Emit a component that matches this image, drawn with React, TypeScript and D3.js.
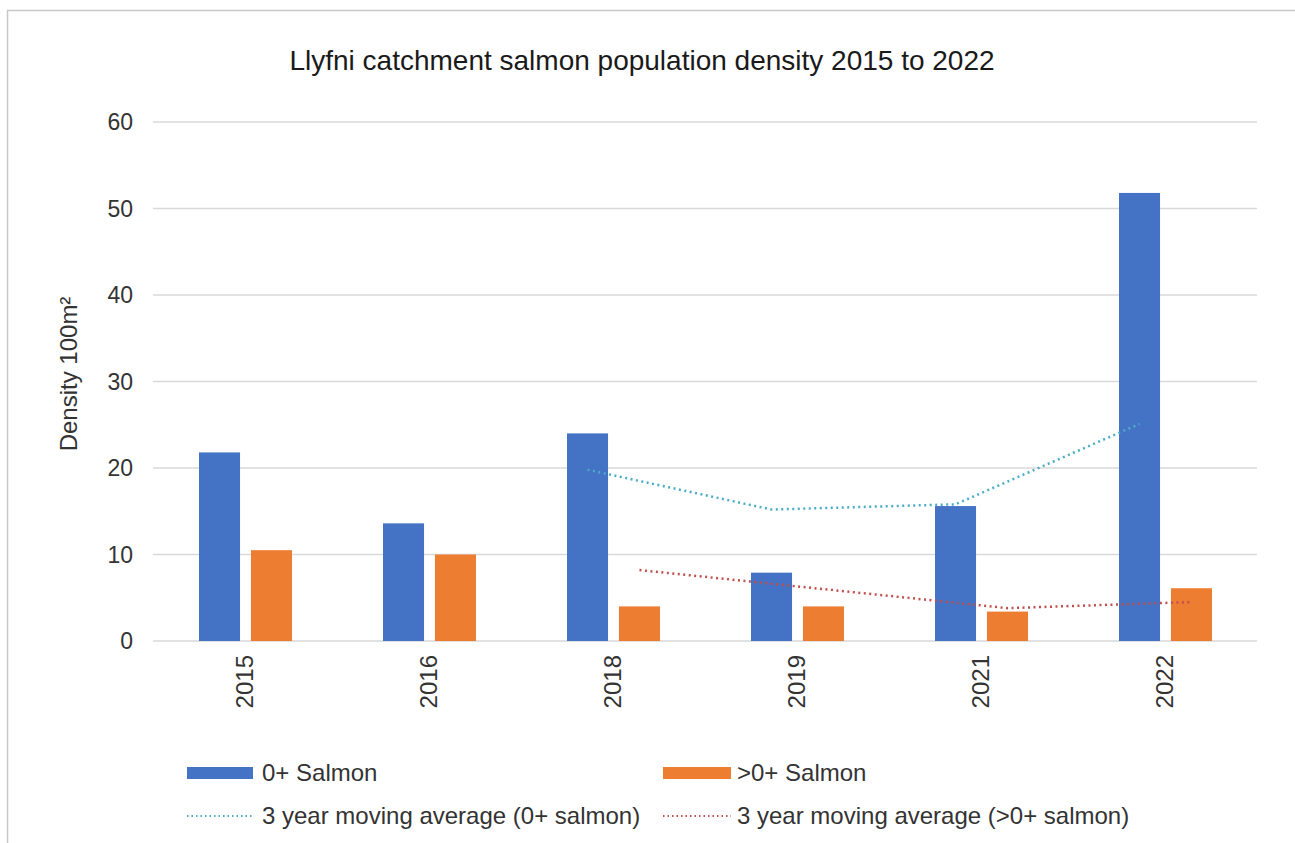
import React from "react";
import * as d3 from "d3";

const years = ["2015", "2016", "2018", "2019", "2021", "2022"];
const seriesNames = ["0+ Salmon", ">0+ Salmon"];
const salmon0 = [21.8, 13.6, 24.0, 7.9, 15.6, 51.8];
const salmonOlder = [10.5, 10.0, 4.0, 4.0, 3.4, 6.1];
const maYears = ["2018", "2019", "2021", "2022"];
const ma0 = [19.8, 15.2, 15.8, 25.1];
const maOlder = [8.2, 6.0, 3.8, 4.5];
const yTicks = [0, 10, 20, 30, 40, 50, 60];
const maNames = ["3 year moving average (0+ salmon)", "3 year moving average (>0+ salmon)"];

const BLUE = "#4472C4";
const ORANGE = "#ED7D31";
const CYAN = "#4BACC6";
const RED = "#C0504D";
const FONT = "'Liberation Sans', Arial, sans-serif";

export default function App() {
  const W = 1295, H = 843;
  const x = d3.scaleBand().domain(years).range([153, 1257]).paddingInner(0).paddingOuter(0);
  const inner = d3.scaleBand().domain(seriesNames).range([-46, 47]).paddingInner(0.21).paddingOuter(0);
  const y = d3.scaleLinear().domain([0, 60]).range([641, 122]);
  const center = (yr: string) => (x(yr) as number) + x.bandwidth() / 2;
  const barCenter = (yr: string, s: string) => center(yr) + (inner(s) as number) + inner.bandwidth() / 2;

  const line = d3.line<[number, number]>().x((d) => d[0]).y((d) => d[1]);
  const ma0Pts: [number, number][] = maYears.map((yr, i) => [barCenter(yr, seriesNames[0]), y(ma0[i])]);
  const maOPts: [number, number][] = maYears.map((yr, i) => [barCenter(yr, seriesNames[1]), y(maOlder[i])]);

  const seriesData = [salmon0, salmonOlder];
  const seriesColors = [BLUE, ORANGE];

  return (
    <svg width={W} height={H} style={{ position: "absolute", left: 0, top: 0, background: "#fff" }} fontFamily={FONT}>
      <rect x={7.5} y={10.5} width={1400} height={900} fill="#fff" stroke="#c8c8c8" strokeWidth={1.5} />
      <text x={642} y={70} textAnchor="middle" fontSize={28} fill="#1a1a1a">
        Llyfni catchment salmon population density 2015 to 2022
      </text>
      {yTicks.map((t) => (
        <g key={t}>
          <line x1={153} x2={1257} y1={y(t)} y2={y(t)} stroke="#d9d9d9" strokeWidth={1.5} />
          <text x={133} y={y(t)} dy="0.35em" textAnchor="end" fontSize={23} fill="#333">
            {t}
          </text>
        </g>
      ))}
      <text transform={`translate(77,374) rotate(-90)`} textAnchor="middle" fontSize={24} fill="#333">
        Density 100m²
      </text>
      {seriesNames.map((s, si) =>
        years.map((yr, i) => (
          <rect
            key={s + yr}
            x={center(yr) + (inner(s) as number)}
            y={y(seriesData[si][i])}
            width={inner.bandwidth()}
            height={y(0) - y(seriesData[si][i])}
            fill={seriesColors[si]}
          />
        ))
      )}
      <path d={line(ma0Pts) || ""} fill="none" stroke={CYAN} strokeWidth={2.5} strokeDasharray="2,3.5" />
      <path d={line(maOPts) || ""} fill="none" stroke={RED} strokeWidth={2.5} strokeDasharray="2,3.5" />
      {years.map((yr) => (
        <text
          key={yr}
          transform={`translate(${center(yr)},655) rotate(-90)`}
          textAnchor="end"
          dy="0.35em"
          fontSize={24}
          fill="#333"
        >
          {yr}
        </text>
      ))}
      {/* Legend */}
      <rect x={187} y={767} width={66} height={12} fill={BLUE} />
      <text x={262} y={773} dy="0.35em" fontSize={24} fill="#333">{seriesNames[0]}</text>
      <rect x={663} y={767} width={68} height={12} fill={ORANGE} />
      <text x={737} y={773} dy="0.35em" fontSize={24} fill="#333">{seriesNames[1]}</text>
      <line x1={187} x2={253} y1={816} y2={816} stroke={CYAN} strokeWidth={2} strokeDasharray="1.5,3" />
      <text x={262} y={816} dy="0.35em" fontSize={24} fill="#333">{maNames[0]}</text>
      <line x1={663} x2={731} y1={816} y2={816} stroke={RED} strokeWidth={2} strokeDasharray="1.5,3" />
      <text x={737} y={816} dy="0.35em" fontSize={24} fill="#333">{maNames[1]}</text>
    </svg>
  );
}
